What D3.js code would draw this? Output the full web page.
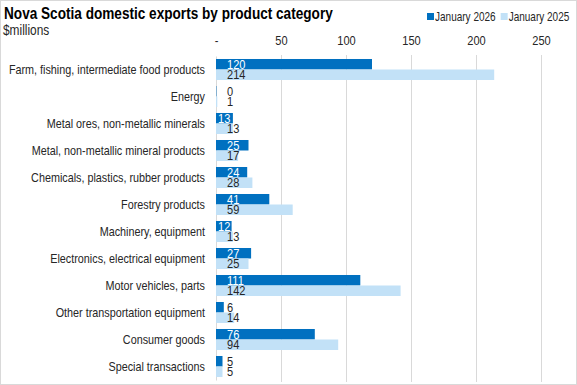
<!DOCTYPE html>
<html>
<head>
<meta charset="utf-8">
<script src="https://cdn.jsdelivr.net/npm/d3@7"></script>
<style>
  body { margin: 0; background: #fff; }
  svg { display: block; }
</style>
</head>
<body>
<div id="grafico"></div>
<script>
// datos
const categorias = [
  "Farm, fishing, intermediate food products",
  "Energy",
  "Metal ores, non-metallic minerals",
  "Metal, non-metallic mineral products",
  "Chemicals, plastics, rubber products",
  "Forestry products",
  "Machinery, equipment",
  "Electronics, electrical equipment",
  "Motor vehicles, parts",
  "Other transportation equipment",
  "Consumer goods",
  "Special transactions"
]
const enero2026 = [120, 0.3, 13, 25, 24, 41, 12, 27, 111, 6, 76, 5]
const enero2025 = [214, 1, 13, 17, 28, 59, 13, 25, 142, 14, 94, 5]
const etiquetas2026 = ["120", "0", "13", "25", "24", "41", "12", "27", "111", "6", "76", "5"]
const etiquetas2025 = ["214", "1", "13", "17", "28", "59", "13", "25", "142", "14", "94", "5"]
const series = ["January 2026", "January 2025"]
const ticks = [0, 50, 100, 150, 200, 250]

const ancho = 577, alto = 385
const colores = ["#0070c0", "#c2e1f7"]
const fuente = "'Liberation Sans', Arial, sans-serif"
const estrecho = 0.85

// simula una fuente estrecha comprimiendo el texto; guarda el ancho final
function estrechar(sel, factor = estrecho) {
  sel.each(function() {
    const w = this.getComputedTextLength() * factor
    this.__ancho = w
    d3.select(this).attr("textLength", w).attr("lengthAdjust", "spacingAndGlyphs")
  })
}

const svg = d3.select("#grafico").append("svg")
  .attr("width", ancho).attr("height", alto)
  .style("font-family", fuente)

svg.append("rect")
  .attr("x", 0.5).attr("y", 0.5)
  .attr("width", ancho - 1).attr("height", alto - 1)
  .attr("fill", "#fff").attr("stroke", "#d9d9d9")

const xScale = d3.scaleLinear().domain([0, 270]).range([216, 567])
const yScale = d3.scaleBand().domain(categorias).range([56, 380])
  .paddingInner(0.222).paddingOuter(0.111)
const sub = d3.scaleBand().domain([0, 1]).range([0, yScale.bandwidth()])

// rejilla
svg.append("g").selectAll("line")
  .data(ticks.slice(1))
  .enter().append("line")
  .attr("x1", d => xScale(d) + 0.5).attr("x2", d => xScale(d) + 0.5)
  .attr("y1", 55).attr("y2", 382)
  .attr("stroke", "#d9d9d9")

// eje x arriba
const ejeX = svg.append("g")
  .attr("transform", "translate(0,45)")
  .call(d3.axisTop(xScale).tickValues(ticks).tickSize(0)
    .tickFormat(d => d === 0 ? "-" : d))
ejeX.select(".domain").remove()
ejeX.selectAll("text")
  .attr("font-size", 13).attr("font-family", fuente)
  .attr("fill", "#262626").attr("y", 0)
  .call(estrechar)

// eje y
const ejeY = svg.append("g")
  .attr("transform", "translate(216,0)")
  .call(d3.axisLeft(yScale).tickSize(0).tickPadding(11))
ejeY.select(".domain").attr("stroke", "#d9d9d9")
ejeY.selectAll("text")
  .attr("font-size", 13).attr("font-family", fuente).attr("fill", "#262626")
  .call(estrechar, 0.83)

const datos = categorias.flatMap((c, i) => [
  {cat: c, s: 0, valor: enero2026[i], texto: etiquetas2026[i]},
  {cat: c, s: 1, valor: enero2025[i], texto: etiquetas2025[i]}
])

svg.append("g").selectAll("rect")
  .data(datos)
  .enter().append("rect")
  .attr("x", xScale(0))
  .attr("y", d => yScale(d.cat) + sub(d.s))
  .attr("width", d => xScale(d.valor) - xScale(0))
  .attr("height", sub.bandwidth())
  .attr("fill", d => colores[d.s])

// etiquetas de valores
const etiquetas = svg.append("g").selectAll("text")
  .data(datos)
  .enter().append("text")
  .attr("y", d => yScale(d.cat) + sub(d.s) + sub.bandwidth() / 2)
  .attr("dy", "0.36em")
  .attr("font-size", 13)
  .text(d => d.texto)
  .call(estrechar)

etiquetas.each(function(d) {
  const w = this.__ancho
  const anchoBarra = xScale(d.valor) - xScale(0)
  let x = xScale(0) + 11
  let dentro = anchoBarra >= w + 13
  if (d.s === 0 && !dentro && anchoBarra >= w + 2) {
    x = xScale(0) + 2
    dentro = true
  }
  d3.select(this).attr("x", x)
    .attr("fill", d.s === 0 && dentro ? "#fff" : "#262626")
})

// titulo
svg.append("text")
  .attr("x", 4).attr("y", 19)
  .attr("font-size", 16).attr("font-weight", "bold").attr("fill", "#000")
  .text("Nova Scotia domestic exports by product category")
  .call(estrechar)
svg.append("text")
  .attr("x", 3).attr("y", 35)
  .attr("font-size", 14).attr("fill", "#262626")
  .text("$millions")
  .call(estrechar)

// leyenda
const leyenda = svg.append("g")
let lx = 427
series.forEach((s, i) => {
  leyenda.append("rect")
    .attr("x", lx).attr("y", 13).attr("width", 7).attr("height", 7)
    .attr("fill", colores[i])
  const t = leyenda.append("text")
    .attr("x", lx + 8).attr("y", 21)
    .attr("font-size", 13).attr("fill", "#262626")
    .text(s)
    .call(estrechar, 0.77)
  lx += 8 + t.node().__ancho + 5
})
</script>
</body>
</html>
